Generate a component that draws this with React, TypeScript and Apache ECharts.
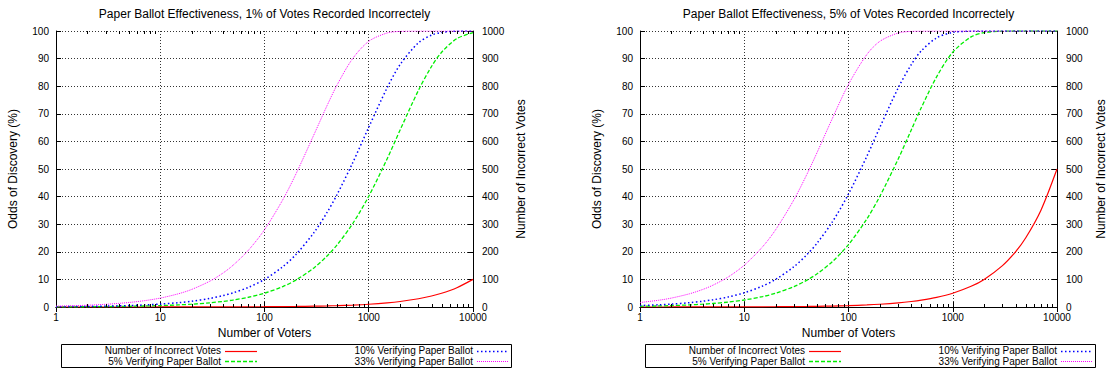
import React, { useEffect, useRef } from "react";
import * as echarts from "echarts";

// Number of voters (x samples)
const voters = [1, 1.5, 2, 3, 4, 5, 7, 10, 15, 20, 30, 40, 50, 70, 100, 150, 200, 300, 400, 500, 700, 1000, 1500, 2000, 3000, 4000, 5000, 7000, 10000];

// Panel 1: 1% of votes recorded incorrectly
const p1Incorrect = [0.01, 0.015, 0.02, 0.03, 0.04, 0.05, 0.07, 0.1, 0.15, 0.2, 0.3, 0.4, 0.5, 0.7, 1, 1.5, 2, 3, 4, 5, 7, 10, 15, 20, 30, 40, 50, 70, 100];
const p1Verify5 = [0.05, 0.08, 0.10, 0.15, 0.21, 0.26, 0.36, 0.51, 0.77, 1.02, 1.53, 2.03, 2.53, 3.53, 5.0, 7.41, 9.75, 14.26, 18.55, 22.62, 30.17, 40.13, 53.67, 64.15, 78.54, 87.15, 92.31, 97.24, 99.41];
const p1Verify10 = [0.11, 0.16, 0.21, 0.32, 0.42, 0.53, 0.74, 1.05, 1.57, 2.09, 3.11, 4.13, 5.13, 7.11, 10.0, 14.62, 19.0, 27.1, 34.39, 40.95, 52.17, 65.13, 79.41, 87.84, 95.76, 98.52, 99.48, 99.94, 100];
const p1Verify33 = [0.33, 0.49, 0.65, 0.98, 1.31, 1.63, 2.27, 3.23, 4.81, 6.36, 9.39, 12.31, 15.15, 20.55, 28.0, 38.91, 48.16, 62.68, 73.13, 80.65, 89.97, 96.26, 99.28, 99.86, 99.99, 100, 100, 100, 100];

// Panel 2: 5% of votes recorded incorrectly
const p2Incorrect = [0.05, 0.075, 0.1, 0.15, 0.2, 0.25, 0.35, 0.5, 0.75, 1, 1.5, 2, 2.5, 3.5, 5, 7.5, 10, 15, 20, 25, 35, 50, 75, 100, 150, 200, 250, 350, 500];
const p2Verify5 = [0.26, 0.38, 0.51, 0.77, 1.02, 1.27, 1.78, 2.53, 3.77, 5.0, 7.41, 9.75, 12.04, 16.43, 22.62, 31.93, 40.13, 53.67, 64.15, 72.26, 83.39, 92.31, 97.87, 99.41, 99.95, 100, 100, 100, 100];
const p2Verify10 = [0.53, 0.79, 1.05, 1.57, 2.09, 2.6, 3.62, 5.13, 7.6, 10.0, 14.62, 19.0, 23.16, 30.84, 40.95, 54.62, 65.13, 79.41, 87.84, 92.82, 97.5, 99.48, 99.96, 100, 100, 100, 100, 100, 100];
const p2Verify33 = [1.63, 2.43, 3.23, 4.81, 6.36, 7.89, 10.86, 15.15, 21.84, 28.0, 38.91, 48.16, 56.01, 68.33, 80.65, 91.49, 96.26, 99.28, 99.86, 99.97, 100, 100, 100, 100, 100, 100, 100, 100, 100];

// Axis ticks
const xTickLabels = ["1", "10", "100", "1000", "10000"];
const minorTickValues = [2, 3, 4, 5, 6, 7, 8, 9, 20, 30, 40, 50, 60, 70, 80, 90, 200, 300, 400, 500, 600, 700, 800, 900, 2000, 3000, 4000, 5000, 6000, 7000, 8000, 9000];

const titles = [
  "Paper Ballot Effectiveness, 1% of Votes Recorded Incorrectely",
  "Paper Ballot Effectiveness, 5% of Votes Recorded Incorrectely",
];
const seriesNames = ["Number of Incorrect Votes", "5% Verifying Paper Ballot", "10% Verifying Paper Ballot", "33% Verifying Paper Ballot"];
const panelData = [
  [p1Incorrect, p1Verify5, p1Verify10, p1Verify33],
  [p2Incorrect, p2Verify5, p2Verify10, p2Verify33],
];

const FONT = '"Liberation Sans", Arial, Helvetica, sans-serif';
const PANEL_LEFT = [56, 640];
const RIGHT_NAME_GAP = [42, 38];
const PLOT_W = 417;
const PLOT_TOP = 31;
const PLOT_H = 276;

const STYLES = [
  { color: "#ff0000", width: 1.2, type: "solid" as any, dash: null as any },
  { color: "#00ee00", width: 1.3, type: [4, 2], dash: [4, 2] },
  { color: "#0000ff", width: 1.5, type: [1.5, 2.5], dash: [1.5, 2.5] },
  { color: "#ff00ff", width: 1, type: [1, 1], dash: [1, 1] },
];

const GRID_LINE = { color: "#333", type: [1, 2], width: 1 };

export default function App() {
  const ref = useRef<HTMLDivElement>(null);
  useEffect(() => {
    if (!ref.current) return;
    const chart = echarts.init(ref.current, undefined, { renderer: "svg" });

    const grids: any[] = [];
    const xAxes: any[] = [];
    const yAxes: any[] = [];
    const series: any[] = [];
    const graphics: any[] = [];
    const titleOpts: any[] = [];

    PANEL_LEFT.forEach((L, i) => {
      titleOpts.push({
        text: titles[i],
        left: L + PLOT_W / 2,
        textAlign: "center",
        top: 8,
        padding: 0,
        textStyle: { fontSize: 12, fontWeight: "normal", color: "#000", fontFamily: FONT },
      });
      grids.push({ left: L, top: PLOT_TOP, width: PLOT_W, height: PLOT_H, containLabel: false, outerBoundsMode: "none" });
      xAxes.push({
        type: "log",
        logBase: 10,
        gridIndex: i,
        min: 1,
        max: 10000,
        position: "bottom",
        axisLine: { show: true, lineStyle: { color: "#000", width: 1 } },
        axisTick: { show: true, inside: true, length: 5, lineStyle: { color: "#000" } },
        axisLabel: {
          fontSize: 10,
          color: "#000",
          margin: 5,
          fontFamily: FONT,
          formatter: (v: number) => {
            const idx = Math.round(Math.log10(v));
            return xTickLabels[idx] ?? String(Math.round(v));
          },
        },
        splitLine: { show: true, lineStyle: GRID_LINE },
        name: "Number of Voters",
        nameLocation: "middle",
        nameGap: 17,
        nameTextStyle: { fontSize: 12, color: "#000", fontFamily: FONT },
      });
      xAxes.push({
        type: "log",
        logBase: 10,
        gridIndex: i,
        min: 1,
        max: 10000,
        position: "top",
        axisLine: { show: true, lineStyle: { color: "#000", width: 1 } },
        axisTick: { show: true, inside: true, length: 5, lineStyle: { color: "#000" } },
        axisLabel: { show: false },
        splitLine: { show: false },
      });
      yAxes.push({
        type: "value",
        gridIndex: i,
        position: "left",
        min: 0,
        max: 100,
        interval: 10,
        axisLine: { show: true, lineStyle: { color: "#000", width: 1 } },
        axisTick: { show: true, inside: true, length: 5, lineStyle: { color: "#000" } },
        axisLabel: { fontSize: 10, color: "#000", margin: 7, fontFamily: FONT, formatter: (v: number) => String(Math.round(v)) },
        splitLine: { show: true, lineStyle: GRID_LINE },
        name: "Odds of Discovery (%)",
        nameLocation: "middle",
        nameGap: 37,
        nameRotate: 90,
        nameTextStyle: { fontSize: 12, color: "#000", fontFamily: FONT },
      });
      yAxes.push({
        type: "value",
        gridIndex: i,
        position: "right",
        min: 0,
        max: 1000,
        interval: 100,
        axisLine: { show: true, lineStyle: { color: "#000", width: 1 } },
        axisTick: { show: true, inside: true, length: 5, lineStyle: { color: "#000" } },
        axisLabel: { fontSize: 10, color: "#000", margin: 9, fontFamily: FONT, formatter: (v: number) => String(Math.round(v)) },
        splitLine: { show: false },
        name: "Number of Incorrect Votes",
        nameLocation: "middle",
        nameGap: RIGHT_NAME_GAP[i],
        nameRotate: 90,
        nameTextStyle: { fontSize: 12, color: "#000", fontFamily: FONT },
      });

      // minor ticks on log axis (top and bottom)
      series.push({
        type: "custom",
        xAxisIndex: 2 * i,
        yAxisIndex: 2 * i,
        silent: true,
        clip: false,
        z: 5,
        data: minorTickValues.map((v) => [v, 0]),
        encode: { x: 0, y: 1 },
        renderItem: (_p: any, api: any) => {
          const x = api.value(0);
          const b = api.coord([x, 0]);
          const t = api.coord([x, 100]);
          const px = Math.round(b[0]) + 0.5;
          return {
            type: "group",
            children: [
              { type: "line", shape: { x1: px, y1: b[1], x2: px, y2: b[1] - 3 }, style: { stroke: "#000", lineWidth: 1 } },
              { type: "line", shape: { x1: px, y1: t[1], x2: px, y2: t[1] + 3 }, style: { stroke: "#000", lineWidth: 1 } },
            ],
          };
        },
      });

      panelData[i].forEach((arr, k) => {
        const st = STYLES[k];
        series.push({
          name: seriesNames[k],
          type: "line",
          xAxisIndex: 2 * i,
          yAxisIndex: k === 0 ? 2 * i + 1 : 2 * i,
          data: voters.map((n, j) => [n, arr[j]]),
          showSymbol: false,
          symbol: "none",
          smooth: 0.3,
          z: 3 + k * 0.1,
          lineStyle: { color: st.color, width: st.width, type: st.type },
          itemStyle: { color: st.color },
        });
      });

      // legend box (gnuplot style)
      const boxX = L + 5;
      const boxY = 344;
      const boxW = 450;
      const boxH = 23;
      graphics.push({
        type: "rect",
        shape: { x: boxX + 0.5, y: boxY + 0.5, width: boxW, height: boxH },
        style: { fill: "#fff", stroke: "#000", lineWidth: 1 },
        z: 10,
      });
      const cols = [
        { textRight: L + 165, lineX1: L + 169, lineX2: L + 201 },
        { textRight: L + 417, lineX1: L + 421, lineX2: L + 452 },
      ];
      const rows = [boxY + 6.5, boxY + 17];
      const placement = [
        { col: 0, row: 0 },
        { col: 0, row: 1 },
        { col: 1, row: 0 },
        { col: 1, row: 1 },
      ];
      placement.forEach((pl, k) => {
        const c = cols[pl.col];
        const y = rows[pl.row];
        const st = STYLES[k];
        graphics.push({
          type: "text",
          x: c.textRight,
          y: y,
          z: 11,
          style: {
            text: seriesNames[k],
            fill: "#000",
            font: `10px ${FONT}`,
            fontSize: 10,
            fontFamily: FONT,
            align: "right",
            textAlign: "right",
            verticalAlign: "middle",
            textVerticalAlign: "middle",
          },
        });
        graphics.push({
          type: "line",
          z: 11,
          shape: { x1: c.lineX1, y1: Math.round(y) + 0.5, x2: c.lineX2, y2: Math.round(y) + 0.5 },
          style: { stroke: st.color, lineWidth: st.width, lineDash: st.dash || undefined },
        });
      });
    });

    chart.setOption({
      animation: false,
      backgroundColor: "#fff",
      textStyle: { fontFamily: FONT },
      title: titleOpts,
      grid: grids,
      xAxis: xAxes,
      yAxis: yAxes,
      series,
      graphic: graphics,
    });
    return () => chart.dispose();
  }, []);
  return <div ref={ref} style={{ position: "fixed", left: 0, top: 0, width: 1107, height: 370 }} />;
}
